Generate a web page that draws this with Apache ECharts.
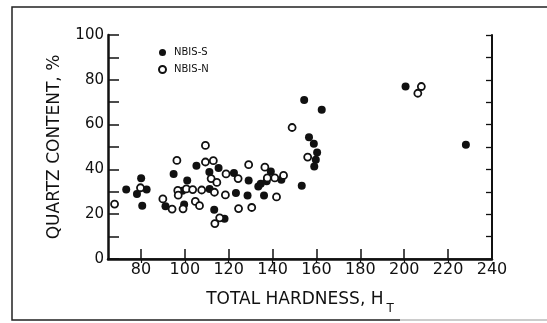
<!DOCTYPE html>
<html>
<head>
<meta charset="utf-8">
<script src="https://cdn.jsdelivr.net/npm/echarts@6/dist/echarts.min.js"></script>
<style>
html,body{margin:0;padding:0;background:#fff;}
#c{width:547px;height:323px;}
</style>
</head>
<body>
<div id="c"></div>
<script>
// NBIS-S (filled circles)
const sHardness = [73.3, 80.1, 78.2, 82.6, 80.6, 94.9, 91.2, 99.7, 101.1, 105.3, 98.9, 111.2, 115.4, 111.3, 123.3, 128.6, 136.1, 113.4, 118.1, 129.1, 122.4, 133.5, 134.6, 139.2, 137.3, 144.0, 153.3, 156.6, 158.8, 160.3, 159.7, 159.0, 162.4, 154.4, 200.6, 228.1];
const sQuartz   = [31.0, 36.1, 29.0, 31.0, 23.8, 38.0, 23.6, 24.3, 35.1, 41.6, 30.5, 38.8, 40.6, 31.3, 29.5, 28.3, 28.3, 22.0, 18.0, 35.1, 38.4, 32.4, 33.6, 39.1, 34.7, 35.4, 32.7, 54.4, 51.4, 47.6, 44.3, 41.3, 66.6, 71.0, 77.0, 51.0];
// NBIS-N (open circles)
const nHardness = [68.0, 79.8, 90.0, 94.2, 96.4, 99.2, 104.8, 109.4, 109.4, 113.0, 118.8, 112.0, 114.6, 100.7, 103.6, 106.7, 107.7, 113.5, 118.5, 141.8, 115.9, 113.7, 124.5, 130.5, 129.1, 124.3, 136.5, 141.0, 145.0, 148.9, 156.0, 206.2, 207.8, 96.8, 97.0, 137.6];
const nQuartz   = [24.5, 31.8, 26.8, 22.3, 44.0, 22.4, 25.7, 50.7, 43.3, 43.9, 38.0, 35.9, 34.2, 31.3, 31.0, 23.8, 30.8, 29.8, 28.6, 27.7, 18.4, 15.8, 22.5, 23.0, 42.1, 35.9, 41.0, 36.2, 37.3, 58.7, 45.5, 74.0, 77.0, 30.6, 28.5, 36.2];
// axes
const xTicks = [80, 100, 120, 140, 160, 180, 200, 220, 240];
const yLabels = [0, 20, 40, 60, 80, 100];
const seriesNames = ['NBIS-S', 'NBIS-N'];

const zip = (a, b) => a.map((v, i) => [v, b[i]]);
const F = 'DejaVu Sans';
const chart = echarts.init(document.getElementById('c'), null, {renderer: 'canvas'});
chart.setOption({
  animation: false,
  backgroundColor: '#fff',
  grid: {left: 108, right: 55, top: 35, bottom: 64, containLabel: false},
  legend: {
    orient: 'vertical', left: 153, top: 42, itemWidth: 7, itemHeight: 7, itemGap: 6,
    data: seriesNames,
    textStyle: {fontFamily: F, fontSize: 10, color: '#111', padding: [0, 0, 0, 3], lineHeight: 11}
  },
  xAxis: [{
    type: 'value', position: 'bottom', min: 65, max: 240,
    axisLine: {lineStyle: {color: '#111', width: 2.5}},
    axisTick: {inside: true, length: 10, customValues: xTicks.slice(0, -1), lineStyle: {color: '#111', width: 1.5}},
    axisLabel: {customValues: xTicks, fontFamily: F, fontSize: 16, color: '#111', margin: 3},
    splitLine: {show: false},
    name: 'TOTAL HARDNESS, H{s|T}', nameLocation: 'middle', nameGap: 26,
    nameTextStyle: {fontFamily: F, fontSize: 17, color: '#111',
      rich: {s: {fontFamily: F, fontSize: 12, color: '#111', padding: [18, 0, 0, 3], verticalAlign: 'bottom'}}}
  }, {
    type: 'value', position: 'top', min: 65, max: 240,
    axisLine: {lineStyle: {color: '#111', width: 1.5}},
    axisTick: {inside: true, length: 4, customValues: xTicks.slice(0, -1), lineStyle: {color: '#111', width: 1.2}},
    axisLabel: {show: false}, splitLine: {show: false}
  }],
  yAxis: [{
    type: 'value', position: 'left', min: 0, max: 100, interval: 10,
    axisLine: {lineStyle: {color: '#111', width: 2.5}},
    axisTick: {inside: true, length: 11, lineStyle: {color: '#111', width: 1.5}},
    axisLabel: {customValues: yLabels, fontFamily: F, fontSize: 15, color: '#111', margin: 4},
    splitLine: {show: false},
    name: 'QUARTZ CONTENT, %', nameLocation: 'middle', nameGap: 45, nameRotate: 90,
    nameTextStyle: {fontFamily: F, fontSize: 17, color: '#111'}
  }, {
    type: 'value', position: 'right', min: 0, max: 100, interval: 10,
    axisLine: {lineStyle: {color: '#111', width: 2}},
    axisTick: {inside: true, length: 6, lineStyle: {color: '#111', width: 1.3}},
    axisLabel: {show: false}, splitLine: {show: false}
  }],
  series: [{
    name: seriesNames[0], type: 'scatter', xAxisIndex: 0, yAxisIndex: 0,
    data: zip(sHardness, sQuartz), symbol: 'circle', symbolSize: 8,
    itemStyle: {color: '#111', opacity: 1}
  }, {
    name: seriesNames[1], type: 'scatter', xAxisIndex: 0, yAxisIndex: 0,
    data: zip(nHardness, nQuartz), symbol: 'circle', symbolSize: 7,
    itemStyle: {color: '#fff', borderColor: '#111', borderWidth: 1.8, opacity: 1}
  }],
  graphic: [{
    type: 'polyline', silent: true,
    shape: {points: [[547, 7], [12, 7], [12, 320], [400, 320]]},
    style: {stroke: '#222', lineWidth: 1.5, fill: null}
  }, {
    type: 'line', silent: true,
    shape: {x1: 400, y1: 320, x2: 547, y2: 320},
    style: {stroke: '#bbb', lineWidth: 1.5}
  }]
});
</script>
</body>
</html>
